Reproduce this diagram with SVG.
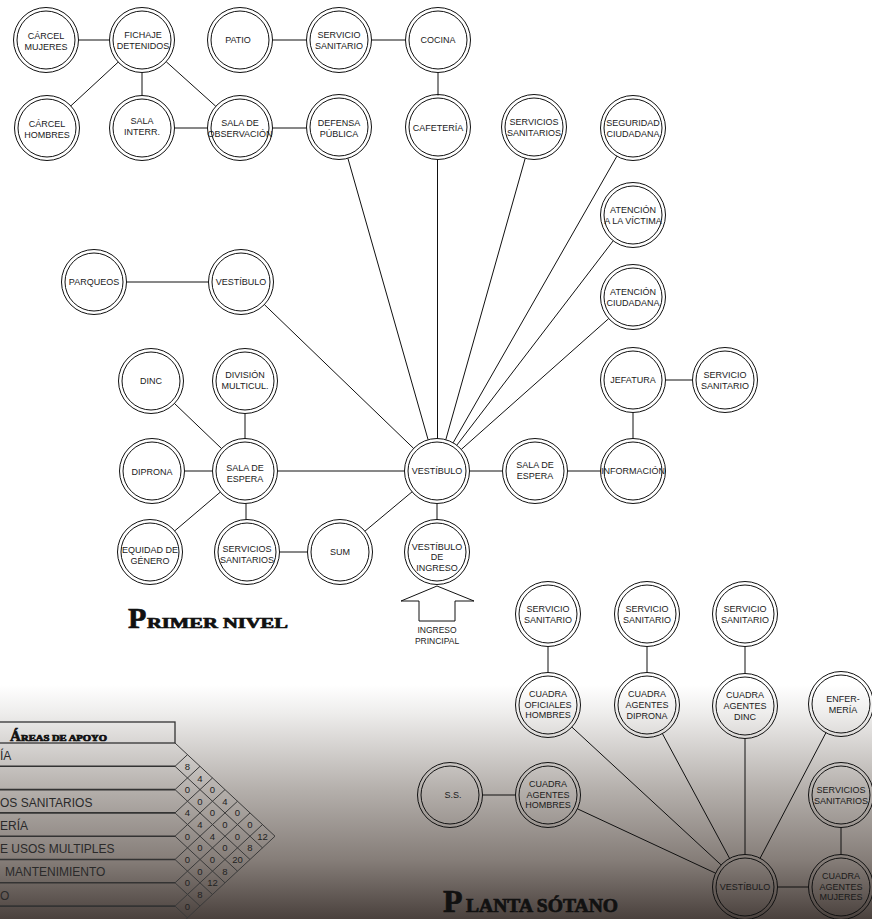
<svg xmlns="http://www.w3.org/2000/svg" width="872" height="919" viewBox="0 0 872 919">
<defs>
<linearGradient id="bg" x1="0" y1="685" x2="0" y2="919" gradientUnits="userSpaceOnUse">
<stop offset="0" stop-color="#ffffff"/>
<stop offset="0.12" stop-color="#eeedec"/>
<stop offset="0.45" stop-color="#b4afab"/>
<stop offset="0.75" stop-color="#857d78"/>
<stop offset="1" stop-color="#4a413d"/>
</linearGradient>
</defs>
<style>
.n circle{fill:none;stroke:#111;stroke-width:1}
.n text{font-family:"Liberation Sans",Arial,sans-serif;font-size:9px;fill:#1a1a1a;text-anchor:middle}
#connectors line{stroke:#111;stroke-width:1}
.ttl{font-family:"Liberation Serif","Times New Roman",serif;font-weight:bold;fill:#111;stroke:#111;stroke-width:0.7}
.mx line{stroke:#3a3a3a;stroke-width:1}
.rowl{stroke:#333;stroke-width:1.6}
.num{font-family:"Liberation Sans",Arial,sans-serif;font-size:9.5px;fill:#222;text-anchor:middle}
.rowt{font-family:"Liberation Sans",Arial,sans-serif;font-size:12px;fill:#2a2a2a}
.small{font-family:"Liberation Sans",Arial,sans-serif;font-size:8.5px;fill:#1a1a1a;text-anchor:middle}
</style>
<rect x="0" y="0" width="872" height="919" fill="#ffffff"/>
<rect x="0" y="685" width="872" height="234" fill="url(#bg)"/>

<g id="connectors">
<line x1="78.5" y1="40" x2="109.5" y2="40"/>
<line x1="118.2" y1="62.1" x2="70.8" y2="105.9"/>
<line x1="142" y1="72.5" x2="142" y2="95.5"/>
<line x1="166.2" y1="61.7" x2="215.8" y2="106.3"/>
<line x1="174.5" y1="128" x2="207.5" y2="128"/>
<line x1="272.5" y1="128" x2="306.5" y2="128"/>
<line x1="272.5" y1="40" x2="306.5" y2="40"/>
<line x1="371.5" y1="40" x2="405.5" y2="40"/>
<line x1="438" y1="72.5" x2="438" y2="95.5"/>
<line x1="428.1" y1="439.7" x2="347.9" y2="158.3"/>
<line x1="437.5" y1="159.5" x2="437.5" y2="438.5"/>
<line x1="445.8" y1="439.7" x2="525.2" y2="158.3"/>
<line x1="453.1" y1="442.8" x2="616.9" y2="156.2"/>
<line x1="456.8" y1="445.2" x2="613.2" y2="240.8"/>
<line x1="461.3" y1="449.4" x2="608.7" y2="318.6"/>
<line x1="413.6" y1="448.4" x2="264.4" y2="304.6"/>
<line x1="126.5" y1="282" x2="208.5" y2="282"/>
<line x1="277.5" y1="471" x2="404.5" y2="471"/>
<line x1="469.5" y1="471" x2="502.5" y2="471"/>
<line x1="567.5" y1="471" x2="600.5" y2="471"/>
<line x1="633" y1="412.5" x2="633" y2="438.5"/>
<line x1="665.5" y1="380" x2="692.5" y2="380"/>
<line x1="437" y1="503.5" x2="437" y2="519.5"/>
<line x1="412.1" y1="491.8" x2="364.9" y2="531.2"/>
<line x1="307.5" y1="552" x2="279.5" y2="552"/>
<line x1="246" y1="503.5" x2="246" y2="519.5"/>
<line x1="245" y1="413.5" x2="245" y2="438.5"/>
<line x1="184.5" y1="471" x2="212.5" y2="471"/>
<line x1="221.5" y1="448.5" x2="174.5" y2="403.5"/>
<line x1="220.3" y1="492.1" x2="174.7" y2="530.9"/>
<line x1="548" y1="646.5" x2="548" y2="672.5"/>
<line x1="647" y1="646.5" x2="647" y2="672.5"/>
<line x1="745" y1="646.5" x2="745" y2="673.5"/>
<line x1="482.5" y1="795" x2="515.5" y2="795"/>
<line x1="841" y1="827.5" x2="841" y2="854.5"/>
<line x1="777.5" y1="887" x2="808.5" y2="887"/>
<line x1="745" y1="738.5" x2="745" y2="854.5"/>
<line x1="721.1" y1="864.9" x2="571.9" y2="727.1"/>
<line x1="729.6" y1="858.4" x2="662.4" y2="733.6"/>
<line x1="760.1" y1="858.2" x2="825.9" y2="732.8"/>
<line x1="715.6" y1="873.2" x2="577.4" y2="808.8"/>
</g>

<g id="n-carcel-mujeres" class="n"><circle cx="46" cy="40" r="32.5"/><circle cx="46" cy="40" r="29"/><text x="46" y="39">CÁRCEL</text><text x="46" y="50">MUJERES</text></g>
<g id="n-fichaje" class="n"><circle cx="142" cy="40" r="32.5"/><circle cx="142" cy="40" r="29"/><text x="143" y="38">FICHAJE</text><text x="143" y="49">DETENIDOS</text></g>
<g id="n-patio" class="n"><circle cx="240" cy="40" r="32.5"/><circle cx="240" cy="40" r="29"/><text x="238" y="43">PATIO</text></g>
<g id="n-servicio-sanitario-1" class="n"><circle cx="339" cy="40" r="32.5"/><circle cx="339" cy="40" r="29"/><text x="339" y="38">SERVICIO</text><text x="339" y="49">SANITARIO</text></g>
<g id="n-cocina" class="n"><circle cx="438" cy="40" r="32.5"/><circle cx="438" cy="40" r="29"/><text x="438" y="43">COCINA</text></g>
<g id="n-carcel-hombres" class="n"><circle cx="47" cy="128" r="32.5"/><circle cx="47" cy="128" r="29"/><text x="47" y="127">CÁRCEL</text><text x="47" y="138">HOMBRES</text></g>
<g id="n-sala-interr" class="n"><circle cx="142" cy="128" r="32.5"/><circle cx="142" cy="128" r="29"/><text x="142" y="124">SALA</text><text x="142" y="135">INTERR.</text></g>
<g id="n-sala-observacion" class="n"><circle cx="240" cy="128" r="32.5"/><circle cx="240" cy="128" r="29"/><text x="240" y="126">SALA DE</text><text x="240" y="137">OBSERVACIÓN</text></g>
<g id="n-defensa" class="n"><circle cx="339" cy="127" r="32.5"/><circle cx="339" cy="127" r="29"/><text x="339" y="126">DEFENSA</text><text x="339" y="137">PÚBLICA</text></g>
<g id="n-cafeteria" class="n"><circle cx="438" cy="127" r="32.5"/><circle cx="438" cy="127" r="29"/><text x="438" y="131">CAFETERÍA</text></g>
<g id="n-servicios-sanitarios-1" class="n"><circle cx="534" cy="127" r="32.5"/><circle cx="534" cy="127" r="29"/><text x="534" y="125">SERVICIOS</text><text x="534" y="136">SANITARIOS</text></g>
<g id="n-seguridad" class="n"><circle cx="633" cy="128" r="32.5"/><circle cx="633" cy="128" r="29"/><text x="633" y="126">SEGURIDAD</text><text x="633" y="137">CIUDADANA</text></g>
<g id="n-atencion-victima" class="n"><circle cx="633" cy="215" r="32.5"/><circle cx="633" cy="215" r="29"/><text x="633" y="213">ATENCIÓN</text><text x="633" y="224">A LA VÍCTIMA</text></g>
<g id="n-atencion-ciudadana" class="n"><circle cx="633" cy="297" r="32.5"/><circle cx="633" cy="297" r="29"/><text x="633" y="295">ATENCIÓN</text><text x="633" y="306">CIUDADANA</text></g>
<g id="n-parqueos" class="n"><circle cx="94" cy="282" r="32.5"/><circle cx="94" cy="282" r="29"/><text x="94" y="285">PARQUEOS</text></g>
<g id="n-vestibulo-sup" class="n"><circle cx="241" cy="282" r="32.5"/><circle cx="241" cy="282" r="29"/><text x="241" y="285">VESTÍBULO</text></g>
<g id="n-dinc" class="n"><circle cx="151" cy="381" r="32.5"/><circle cx="151" cy="381" r="29"/><text x="151" y="384">DINC</text></g>
<g id="n-division" class="n"><circle cx="245" cy="381" r="32.5"/><circle cx="245" cy="381" r="29"/><text x="245" y="378">DIVISIÓN</text><text x="245" y="389">MULTICUL.</text></g>
<g id="n-jefatura" class="n"><circle cx="633" cy="380" r="32.5"/><circle cx="633" cy="380" r="29"/><text x="633" y="383">JEFATURA</text></g>
<g id="n-servicio-sanitario-2" class="n"><circle cx="725" cy="380" r="32.5"/><circle cx="725" cy="380" r="29"/><text x="725" y="378">SERVICIO</text><text x="725" y="389">SANITARIO</text></g>
<g id="n-diprona" class="n"><circle cx="152" cy="471" r="32.5"/><circle cx="152" cy="471" r="29"/><text x="152" y="475">DIPRONA</text></g>
<g id="n-sala-espera-1" class="n"><circle cx="245" cy="471" r="32.5"/><circle cx="245" cy="471" r="29"/><text x="245" y="471">SALA DE</text><text x="245" y="482">ESPERA</text></g>
<g id="n-vestibulo" class="n"><circle cx="437" cy="471" r="32.5"/><circle cx="437" cy="471" r="29"/><text x="437" y="474">VESTÍBULO</text></g>
<g id="n-sala-espera-2" class="n"><circle cx="535" cy="471" r="32.5"/><circle cx="535" cy="471" r="29"/><text x="535" y="468">SALA DE</text><text x="535" y="479">ESPERA</text></g>
<g id="n-informacion" class="n"><circle cx="633" cy="471" r="32.5"/><circle cx="633" cy="471" r="29"/><text x="633" y="474">INFORMACIÓN</text></g>
<g id="n-equidad" class="n"><circle cx="150" cy="552" r="32.5"/><circle cx="150" cy="552" r="29"/><text x="150" y="553">EQUIDAD DE</text><text x="150" y="564">GÉNERO</text></g>
<g id="n-servicios-sanitarios-2" class="n"><circle cx="247" cy="552" r="32.5"/><circle cx="247" cy="552" r="29"/><text x="247" y="552">SERVICIOS</text><text x="247" y="563">SANITARIOS</text></g>
<g id="n-sum" class="n"><circle cx="340" cy="552" r="32.5"/><circle cx="340" cy="552" r="29"/><text x="340" y="555">SUM</text></g>
<g id="n-vestibulo-ingreso" class="n"><circle cx="437" cy="552" r="32.5"/><circle cx="437" cy="552" r="29"/><text x="437" y="550">VESTÍBULO</text><text x="437" y="560">DE</text><text x="437" y="571">INGRESO</text></g>

<g id="ingreso">
<polygon points="437,586 474,601 455,601 455,621 419,621 419,601 401,601" fill="none" stroke="#111" stroke-width="1"/>
<text class="small" x="437" y="633">INGRESO</text>
<text class="small" x="437" y="644">PRINCIPAL</text>
</g>

<g id="title-primer">
<text class="ttl" x="128" y="628" font-size="30">P</text>
<text class="ttl" x="147" y="628" font-size="14" textLength="141" lengthAdjust="spacingAndGlyphs">RIMER NIVEL</text>
</g>

<g id="n-servicio-sanitario-s1" class="n"><circle cx="548" cy="614" r="32.5"/><circle cx="548" cy="614" r="29"/><text x="548" y="612">SERVICIO</text><text x="548" y="623">SANITARIO</text></g>
<g id="n-servicio-sanitario-s2" class="n"><circle cx="647" cy="614" r="32.5"/><circle cx="647" cy="614" r="29"/><text x="647" y="612">SERVICIO</text><text x="647" y="623">SANITARIO</text></g>
<g id="n-servicio-sanitario-s3" class="n"><circle cx="745" cy="614" r="32.5"/><circle cx="745" cy="614" r="29"/><text x="745" y="612">SERVICIO</text><text x="745" y="623">SANITARIO</text></g>
<g id="n-cuadra-oficiales" class="n"><circle cx="548" cy="705" r="32.5"/><circle cx="548" cy="705" r="29"/><text x="548" y="697">CUADRA</text><text x="548" y="708">OFICIALES</text><text x="548" y="718">HOMBRES</text></g>
<g id="n-cuadra-diprona" class="n"><circle cx="647" cy="705" r="32.5"/><circle cx="647" cy="705" r="29"/><text x="647" y="697">CUADRA</text><text x="647" y="708">AGENTES</text><text x="647" y="719">DIPRONA</text></g>
<g id="n-cuadra-dinc" class="n"><circle cx="745" cy="706" r="32.5"/><circle cx="745" cy="706" r="29"/><text x="745" y="698">CUADRA</text><text x="745" y="709">AGENTES</text><text x="745" y="720">DINC</text></g>
<g id="n-enfermeria" class="n"><circle cx="841" cy="704" r="32.5"/><circle cx="841" cy="704" r="29"/><text x="843" y="702">ENFER-</text><text x="843" y="713">MERÍA</text></g>
<g id="n-ss" class="n"><circle cx="450" cy="795" r="32.5"/><circle cx="450" cy="795" r="29"/><text x="453" y="798">S.S.</text></g>
<g id="n-cuadra-hombres" class="n"><circle cx="548" cy="795" r="32.5"/><circle cx="548" cy="795" r="29"/><text x="548" y="787">CUADRA</text><text x="548" y="798">AGENTES</text><text x="548" y="808">HOMBRES</text></g>
<g id="n-servicios-sanitarios-s" class="n"><circle cx="841" cy="795" r="32.5"/><circle cx="841" cy="795" r="29"/><text x="841" y="793">SERVICIOS</text><text x="841" y="804">SANITARIOS</text></g>
<g id="n-vestibulo-sotano" class="n"><circle cx="745" cy="887" r="32.5"/><circle cx="745" cy="887" r="29"/><text x="745" y="890">VESTÍBULO</text></g>
<g id="n-cuadra-mujeres" class="n"><circle cx="841" cy="887" r="32.5"/><circle cx="841" cy="887" r="29"/><text x="841" y="879">CUADRA</text><text x="841" y="890">AGENTES</text><text x="841" y="900">MUJERES</text></g>

<g id="title-sotano">
<text class="ttl" x="443" y="912" font-size="32">P</text>
<text class="ttl" x="466" y="912" font-size="18" textLength="152" lengthAdjust="spacingAndGlyphs">LANTA SÓTANO</text>
</g>

<g id="matrix">
<rect x="-2" y="722" width="177" height="21" fill="none" stroke="#333" stroke-width="1.3"/>
<text class="ttl" x="10" y="741" font-size="15" stroke-width="0.3">Á</text>
<text class="ttl" x="21" y="741" font-size="8" stroke-width="0.2" textLength="86" lengthAdjust="spacingAndGlyphs">REAS DE APOYO</text>
<line class="rowl" x1="0" y1="766.3" x2="175" y2="766.3"/>
<line class="rowl" x1="0" y1="789.6" x2="175" y2="789.6"/>
<line class="rowl" x1="0" y1="812.9" x2="175" y2="812.9"/>
<line class="rowl" x1="0" y1="836.2" x2="175" y2="836.2"/>
<line class="rowl" x1="0" y1="859.5" x2="175" y2="859.5"/>
<line class="rowl" x1="0" y1="882.8" x2="175" y2="882.8"/>
<line class="rowl" x1="0" y1="906.1" x2="175" y2="906.1"/>
<text class="rowt" x="0" y="760">ÍA</text>
<text class="rowt" x="0" y="807">OS SANITARIOS</text>
<text class="rowt" x="0" y="830">ERÍA</text>
<text class="rowt" x="0" y="853">E USOS MULTIPLES</text>
<text class="rowt" x="5" y="876">MANTENIMIENTO</text>
<text class="rowt" x="0" y="900">O</text>
<g class="mx">
<line x1="175" y1="743" x2="275" y2="836.2"/>
<line x1="175" y1="766.3" x2="262.5" y2="847.9"/>
<line x1="175" y1="789.6" x2="250" y2="859.5"/>
<line x1="175" y1="812.9" x2="237.5" y2="871.2"/>
<line x1="175" y1="836.2" x2="225" y2="882.8"/>
<line x1="175" y1="859.5" x2="212.5" y2="894.5"/>
<line x1="175" y1="882.8" x2="200" y2="906.1"/>
<line x1="175" y1="906.1" x2="187.5" y2="917.8"/>
<line x1="175" y1="766.3" x2="187.5" y2="754.65"/>
<line x1="175" y1="789.6" x2="200" y2="766.3"/>
<line x1="175" y1="812.9" x2="212.5" y2="777.95"/>
<line x1="175" y1="836.2" x2="225" y2="789.6"/>
<line x1="175" y1="859.5" x2="237.5" y2="801.25"/>
<line x1="175" y1="882.8" x2="250" y2="812.9"/>
<line x1="175" y1="906.1" x2="262.5" y2="824.55"/>
<line x1="175" y1="929.4" x2="275" y2="836.2"/>
</g>
<text class="num" x="187.5" y="769.8">8</text>
<text class="num" x="187.5" y="793.1">0</text>
<text class="num" x="187.5" y="816.4">4</text>
<text class="num" x="187.5" y="839.7">0</text>
<text class="num" x="187.5" y="863">0</text>
<text class="num" x="187.5" y="886.3">0</text>
<text class="num" x="187.5" y="909.6">0</text>
<text class="num" x="200" y="781.5">4</text>
<text class="num" x="200" y="804.7">0</text>
<text class="num" x="200" y="828">4</text>
<text class="num" x="200" y="851.3">0</text>
<text class="num" x="200" y="874.7">0</text>
<text class="num" x="200" y="898">8</text>
<text class="num" x="212.5" y="793.1">0</text>
<text class="num" x="212.5" y="816.4">0</text>
<text class="num" x="212.5" y="839.7">4</text>
<text class="num" x="212.5" y="863">0</text>
<text class="num" x="212.5" y="886.3">12</text>
<text class="num" x="225" y="804.7">4</text>
<text class="num" x="225" y="828">0</text>
<text class="num" x="225" y="851.3">0</text>
<text class="num" x="225" y="874.7">8</text>
<text class="num" x="237.5" y="816.4">0</text>
<text class="num" x="237.5" y="839.7">0</text>
<text class="num" x="237.5" y="863">20</text>
<text class="num" x="250" y="828">0</text>
<text class="num" x="250" y="851.3">8</text>
<text class="num" x="262.5" y="839.7">12</text>
</g>
</svg>
